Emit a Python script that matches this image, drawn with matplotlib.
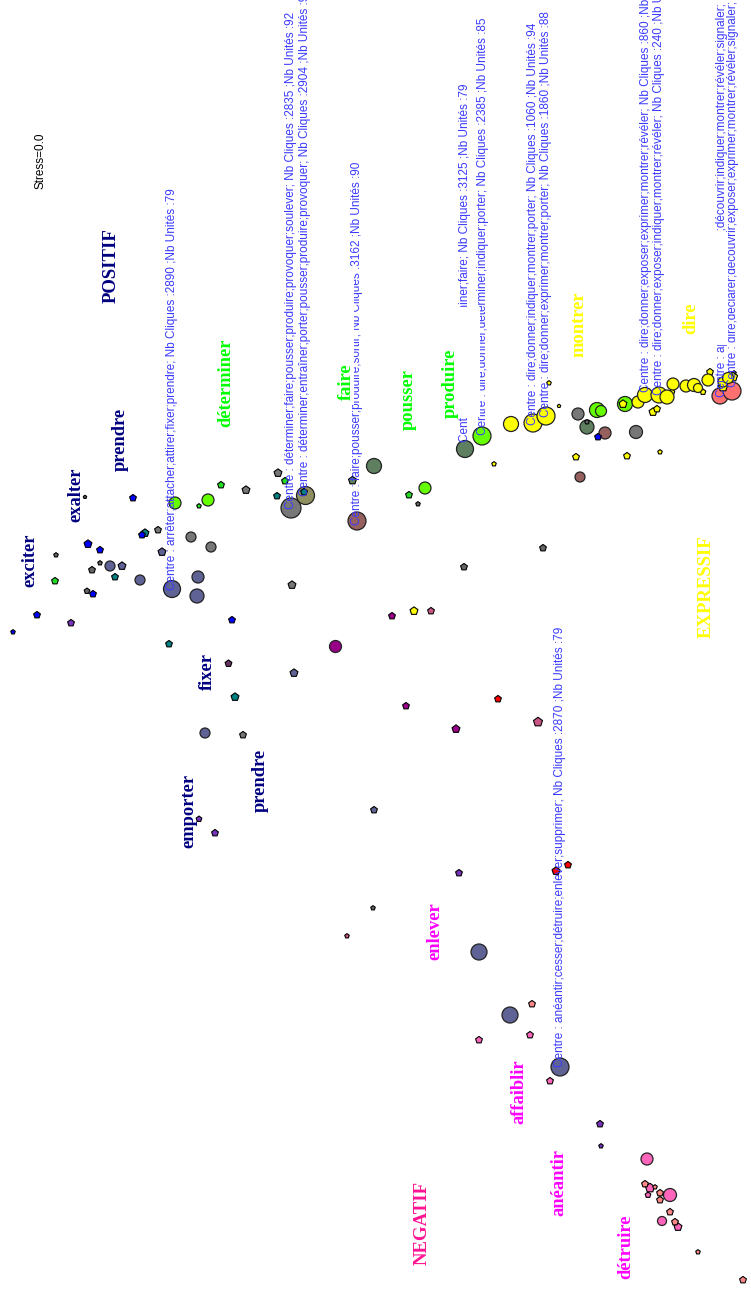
import matplotlib
matplotlib.use("Agg")
import matplotlib.pyplot as plt
from matplotlib.patches import Rectangle
import numpy as np

# points, x, y in pixels, d = diameter, one set per colour
blue_x = [13, 37, 88, 100, 93, 133, 142, 232, 598]
blue_y = [632, 615, 544, 550, 594, 498, 535, 620, 437]
blue_d = [4, 6, 7, 6, 6, 6, 6, 6, 6]

purple_x = [71, 199, 215, 459, 600, 601]
purple_y = [623, 819, 833, 873, 1124, 1146]
purple_d = [6, 5, 6, 6, 6, 4]

dgray_x = [85, 56, 100, 92, 87, 543, 464, 373, 418, 587, 734]
dgray_y = [497, 555, 563, 570, 591, 548, 567, 908, 504, 422, 373]
dgray_d = [3, 4, 4, 6, 5, 6, 6, 4, 4, 4, 4]

gray_x = [158, 191, 211, 246, 278, 292, 243, 578, 636, 291]
gray_y = [530, 537, 547, 490, 473, 585, 735, 414, 432, 508]
gray_d = [6, 10, 10, 7, 7, 7, 6, 12, 13, 20]

teal_x = [115, 145, 169, 235, 277, 304]
teal_y = [577, 533, 644, 697, 496, 492]
teal_d = [6, 7, 6, 7, 6, 6]

slate_x = [110, 122, 140, 162, 172, 198, 197, 205, 294, 479, 510, 560, 374]
slate_y = [566, 566, 580, 552, 589, 577, 596, 733, 673, 952, 1015, 1067, 810]
slate_d = [10, 7, 10, 7, 17, 12, 14, 10, 7, 16, 16, 18, 6]

olive_x = [305]
olive_y = [495]
olive_d = [18]

sage_x = [352, 374, 465, 587]
sage_y = [480, 466, 449, 427]
sage_d = [7, 15, 17, 14]

brown_x = [357, 605, 580]
brown_y = [521, 433, 477]
brown_d = [18, 12, 10]

green_x = [55, 221, 285, 409, 199]
green_y = [581, 485, 481, 495, 506]
green_d = [6, 6, 6, 6, 4]

lime_x = [175, 208, 425, 482, 597, 601, 625]
lime_y = [503, 500, 488, 436, 410, 411, 404]
lime_d = [12, 12, 12, 18, 15, 11, 15]

yellow_x = [414, 494, 511, 533, 546, 540, 549, 559, 576, 627, 660, 623, 638, 645,
            643, 659, 667, 653, 657, 672, 673, 686, 694, 698, 703, 708, 710, 723, 723, 728, 733]
yellow_y = [611, 464, 424, 423, 416, 422, 383, 406, 457, 456, 452, 404, 402, 395,
            396, 395, 397, 412, 409, 392, 384, 386, 385, 388, 392, 380, 372, 382, 387, 378, 377]
yellow_d = [7, 4, 15, 18, 18, 6, 4, 3, 6, 6, 4, 7, 12, 15,
            8, 16, 14, 7, 6, 5, 12, 12, 13, 9, 5, 12, 6, 10, 8, 11, 8]

salmon_x = [720, 732]
salmon_y = [396, 391]
salmon_d = [16, 18]

magenta_x = [392, 335, 406, 456]
magenta_y = [616, 646, 706, 729]
magenta_d = [6, 12, 6, 7]

plum_x = [228]
plum_y = [663]
plum_d = [6]

red_x = [498, 556, 568]
red_y = [699, 871, 865]
red_d = [6, 7, 6]

crimson_x = [431, 538, 347]
crimson_y = [611, 722, 936]
crimson_d = [6, 8, 4]

pink_x = [530, 479, 550, 647, 650, 670, 662, 678, 648]
pink_y = [1035, 1040, 1081, 1159, 1188, 1195, 1221, 1227, 1195]
pink_d = [6, 6, 6, 12, 8, 13, 9, 7, 5]

rose_x = [532, 645, 655, 660, 660, 670, 675, 698, 743]
rose_y = [1004, 1184, 1187, 1193, 1200, 1212, 1222, 1252, 1280]
rose_d = [6, 6, 4, 6, 6, 6, 6, 4, 6]

# centre captions: x, bottom y, text
caption_x = [172, 291, 305, 357, 483, 533, 546, 646, 659, 722, 733, 560]
caption_y = [590, 509, 496, 525, 435, 425, 417, 392, 395, 397, 387, 1067]
caption_text = [
    "Centre : arrêter;attacher;attirer;fixer;prendre; Nb Cliques :2890 ;Nb Unités :79",
    "Centre : déterminer;faire;pousser;produire;provoquer;soulever; Nb Cliques :2835 ;Nb Unités :92",
    "Centre : déterminer;entraîner;porter;pousser;produire;provoquer; Nb Cliques :2904 ;Nb Unités :90",
    "Centre : faire;pousser;produire;sortir; Nb Cliques :3162 ;Nb Unités :90",
    "Centre : dire;donner;déterminer;indiquer;porter; Nb Cliques :2385 ;Nb Unités :85",
    "Centre : dire;donner;indiquer;montrer;porter; Nb Cliques :1060 ;Nb Unités :94",
    "Centre : dire;donner;exprimer;montrer;porter; Nb Cliques :1860 ;Nb Unités :88",
    "Centre : dire;donner;exposer;exprimer;montrer;révéler; Nb Cliques :860 ;Nb Unités :88",
    "Centre : dire;donner;exposer;indiquer;montrer;révéler; Nb Cliques :240 ;Nb Unités :88",
    "Centre : apparaître;déclarer;dire;découvrir;indiquer;montrer;révéler;signaler; Nb Cliques :240",
    "Centre : dire;déclarer;découvrir;exposer;exprimer;montrer;révéler;signaler; Nb Cliques :240",
    "Centre : anéantir;cesser;détruire;enlever;supprimer; Nb Cliques :2870 ;Nb Unités :79",
]
late_caption = "Centre : dire;porter;déterminer;faire; Nb Cliques :3125 ;Nb Unités :79"

# word labels
navy_words = ["exciter", "exalter", "prendre", "fixer", "prendre", "emporter"]
navy_wx = [30, 76, 120, 207, 260, 189]
navy_wy = [560, 495, 439, 671, 780, 811]
green_words = ["déterminer", "faire", "pousser", "produire"]
green_wx = [226, 346, 408, 450]
green_wy = [383, 382, 399, 383]
yellow_words = ["montrer", "dire"]
yellow_wx = [579, 691]
yellow_wy = [324, 318]
pink_words = ["enlever", "affaiblir", "anéantir", "détruire"]
pink_wx = [435, 519, 559, 626]
pink_wy = [931, 1092, 1183, 1247]

fig = plt.figure(figsize=(7.51, 13.10), dpi=100)
ax = fig.add_axes([0, 0, 1, 1])
ax.set_xlim(0, 751)
ax.set_ylim(1310, 0)
ax.axis("off")


def dots(xs, ys, ds, col):
    xs, ys, ds = np.array(xs), np.array(ys), np.array(ds)
    small = ds <= 8
    # pentagons come out smaller than circles at the same s
    ax.scatter(xs[small], ys[small], s=1.4 * (ds[small] * 0.72) ** 2, marker="p", c=col,
               edgecolors="black", linewidths=0.8, zorder=3)
    ax.scatter(xs[~small], ys[~small], s=(ds[~small] * 0.72) ** 2, marker="o", c=col,
               edgecolors="#222222", linewidths=0.9, zorder=3)


dots(gray_x, gray_y, gray_d, "#777777")
dots(olive_x, olive_y, olive_d, "#8f8f60")
dots(slate_x, slate_y, slate_d, "#5f6294")
dots(sage_x, sage_y, sage_d, "#5f8060")
dots(brown_x, brown_y, brown_d, "#96605f")
dots(dgray_x, dgray_y, dgray_d, "#666666")
dots(teal_x, teal_y, teal_d, "#008080")
dots(green_x, green_y, green_d, "#22dd22")
dots(lime_x, lime_y, lime_d, "#66ff00")
dots(salmon_x, salmon_y, salmon_d, "#ff7070")
dots(yellow_x, yellow_y, yellow_d, "#ffff00")
dots(blue_x, blue_y, blue_d, "#0000ff")
dots(purple_x, purple_y, purple_d, "#7733bb")
dots(magenta_x, magenta_y, magenta_d, "#990088")
dots(plum_x, plum_y, plum_d, "#663366")
dots(red_x, red_y, red_d, "#ff0000")
dots(crimson_x, crimson_y, crimson_d, "#cc5588")
dots(pink_x, pink_y, pink_d, "#ff66bb")
dots(rose_x, rose_y, rose_d, "#ff8888")

for cx, cy, t in zip(caption_x, caption_y, caption_text):
    ax.text(cx, cy, t, rotation=90, ha="center", va="bottom", color="#3a3aff",
            family="Liberation Sans", fontsize=8.45, zorder=4)

# white boxes of the word labels hide parts of the captions
ax.add_patch(Rectangle((335, 268), 18.5, 137, fc="white", ec="none", zorder=5))
ax.add_patch(Rectangle((437, 307), 43, 110, fc="white", ec="none", zorder=5))
ax.add_patch(Rectangle((715, 232), 13, 113, fc="white", ec="none", zorder=5))
ax.text(465, 442, late_caption, rotation=90, ha="center", va="bottom", color="#3a3aff",
        family="Liberation Sans", fontsize=8.45, zorder=4)
ax.add_patch(Rectangle((459, 310), 11, 108, fc="white", ec="none", zorder=5))


def words(xs, ys, labels, col):
    for wx, wy, t in zip(xs, ys, labels):
        ax.text(wx, wy, t, rotation=90, ha="center", va="center", color=col,
                family="Liberation Serif", weight="bold", fontsize=13.3, zorder=6)


words(navy_wx, navy_wy, navy_words, "#000080")
words(green_wx, green_wy, green_words, "#00ff00")
words(yellow_wx, yellow_wy, yellow_words, "#ffff00")
words(pink_wx, pink_wy, pink_words, "#ff00ff")

ax.text(111, 266, "POSITIF", rotation=90, ha="center", va="center", color="#000080",
        family="Liberation Serif", weight="bold", fontsize=13.5, zorder=6)
ax.text(706, 587, "EXPRESSIF", rotation=90, ha="center", va="center", color="#ffff00",
        family="Liberation Serif", weight="bold", fontsize=13.5, zorder=6)
ax.text(422, 1223, "NEGATIF", rotation=90, ha="center", va="center", color="#ff1493",
        family="Liberation Serif", weight="bold", fontsize=13.5, zorder=6)
ax.text(41, 161, "Stress=0.0", rotation=90, ha="center", va="center", color="black",
        family="Liberation Sans", fontsize=8.5, zorder=6)

fig.savefig("out.png", dpi=100)
